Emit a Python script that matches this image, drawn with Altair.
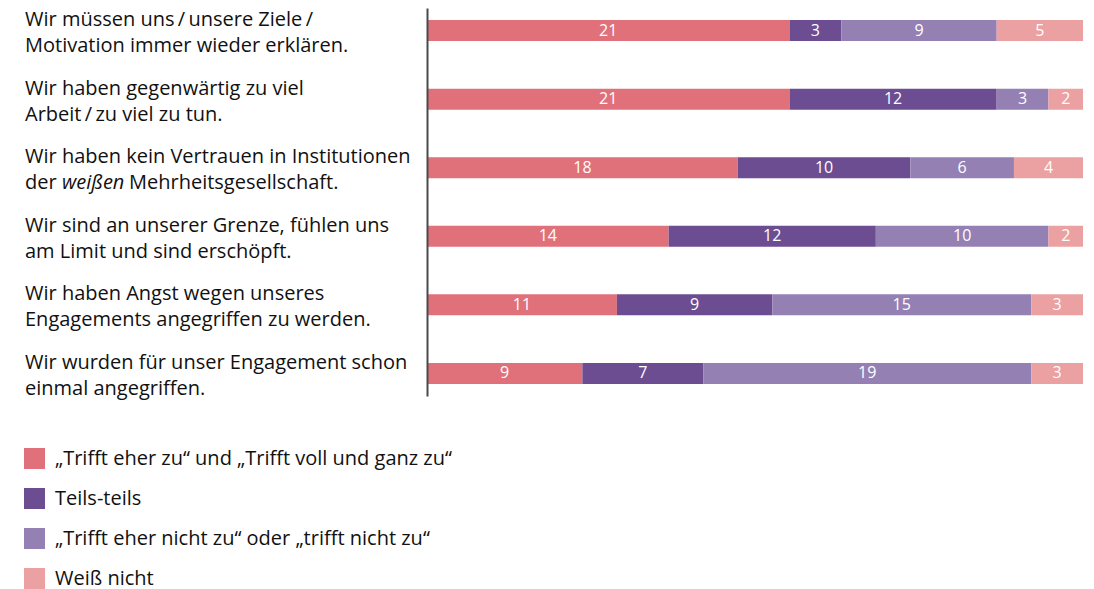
import altair as alt
import pandas as pd

FONT = "Open Sans"
FS = 20

cat_ids = ["r1", "r2", "r3", "r4", "r5", "r6"]
line1 = [
    "Wir müssen uns\u2009/\u2009unsere Ziele\u2009/",
    "Wir haben gegenwärtig zu viel",
    "Wir haben kein Vertrauen in Institutionen",
    "Wir sind an unserer Grenze, fühlen uns",
    "Wir haben Angst wegen unseres",
    "Wir wurden für unser Engagement schon",
]
line2 = [
    "Motivation immer wieder erklären.",
    "Arbeit\u2009/\u2009zu viel zu tun.",
    "der",
    "am Limit und sind erschöpft.",
    "Engagements angegriffen zu werden.",
    "einmal angegriffen.",
]
italic_word = "weißen"
rest_word = "Mehrheitsgesellschaft."

series = [
    "\u201eTrifft eher zu\u201c und \u201eTrifft voll und ganz zu\u201c",
    "Teils-teils",
    "\u201eTrifft eher nicht zu\u201c oder \u201etrifft nicht zu\u201c",
    "Weiß nicht",
]
colors = ["#e0717b", "#6c4d91", "#9580b4", "#eba0a1"]

agree = [21, 21, 18, 14, 11, 9]
partly = [3, 12, 10, 12, 9, 7]
disagree = [9, 3, 6, 10, 15, 19]
dontknow = [5, 2, 4, 2, 3, 3]

rows = []
for i, c in enumerate(cat_ids):
    for k, vals in enumerate([agree, partly, disagree, dontknow]):
        rows.append({"cat": c, "series": series[k], "value": vals[i], "order": k})
df = pd.DataFrame(rows)
lab = pd.DataFrame({"cat": cat_ids, "line1": line1, "line2": line2})
special = pd.DataFrame({"cat": ["r3"], "it": [italic_word], "rest": [rest_word]})

y_enc = alt.Y(
    "cat:N",
    sort=cat_ids,
    scale=alt.Scale(paddingInner=0.693, paddingOuter=0.176),
    axis=alt.Axis(labels=False, ticks=False, title=None, domainColor="#4a4a4a",
                  domainWidth=2, grid=False, zindex=1),
)

base = alt.Chart(df).transform_stack(
    stack="value", groupby=["cat"], sort=[alt.SortField("order", "ascending")], as_=["x0", "x1"]
).transform_calculate(mid="(datum.x0 + datum.x1) / 2")

bars = base.mark_bar().encode(
    x=alt.X("x0:Q", scale=alt.Scale(domain=[0, 38], nice=False), axis=None),
    x2="x1:Q",
    y=y_enc,
    color=alt.Color(
        "series:N",
        scale=alt.Scale(domain=series, range=colors),
        legend=alt.Legend(
            title=None, orient="none", legendX=-403, legendY=440, direction="vertical",
            symbolType="square", symbolSize=441, symbolStrokeWidth=0, symbolOpacity=1,
            labelFontSize=FS, labelFont=FONT, labelColor="#111111", rowPadding=19,
            labelOffset=10, padding=0, labelLimit=0,
        ),
    ),
)

vals = base.mark_text(color="white", fontSize=16, font=FONT).encode(
    x=alt.X("mid:Q"), y=y_enc, text="value:Q"
)

t1 = alt.Chart(lab).mark_text(align="left", baseline="alphabetic", dy=-4.5, fontSize=FS,
                              font=FONT, color="#111111").encode(
    x=alt.value(-402), y=y_enc, text="line1:N")
t2 = alt.Chart(lab).mark_text(align="left", baseline="alphabetic", dy=21.5, fontSize=FS,
                              font=FONT, color="#111111").encode(
    x=alt.value(-402), y=y_enc, text="line2:N")
t3 = alt.Chart(special).mark_text(align="left", baseline="alphabetic", dy=21.5, fontSize=FS,
                                  font=FONT, fontStyle="italic", color="#111111").encode(
    x=alt.value(-365), y=y_enc, text="it:N")
t4 = alt.Chart(special).mark_text(align="left", baseline="alphabetic", dy=21.5, fontSize=FS,
                                  font=FONT, color="#111111").encode(
    x=alt.value(-298), y=y_enc, text="rest:N")

chart = alt.layer(bars, vals, t1, t2, t3, t4).properties(
    width=656, height=388,
    padding={"left": 419, "top": 0, "right": 3, "bottom": 193},
    autosize=alt.AutoSizeParams(type="none"),
).configure_view(stroke=None)

chart.save("out.html", embed_options={"renderer": "svg", "actions": False})
